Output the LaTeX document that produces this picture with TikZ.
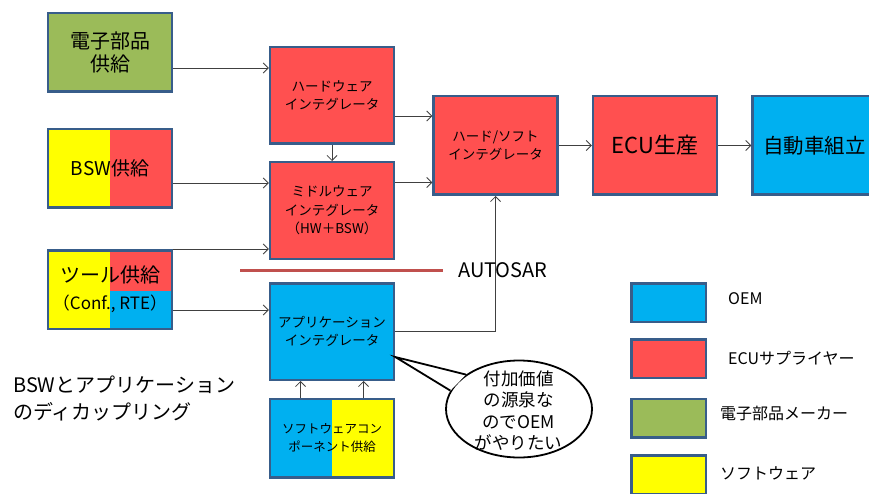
\documentclass[tikz,border=0pt]{standalone}
\usepackage{fontspec}
\setmainfont{Noto Sans CJK JP}
\usetikzlibrary{arrows.meta,shapes.geometric,calc}
\definecolor{cR}{HTML}{FF5050}
\definecolor{cB}{HTML}{00B0F0}
\definecolor{cG}{HTML}{9BBB59}
\definecolor{cY}{HTML}{FFFF00}
\definecolor{cBorder}{HTML}{385D8A}
\definecolor{cLine}{HTML}{404040}
\definecolor{cAuto}{HTML}{C0504D}
\begin{document}
\begin{tikzpicture}[x=1pt,y=-1pt,
  box/.style={draw=cBorder, line width=2.5pt, minimum width=124pt, minimum height=#1, inner sep=0pt, align=center},
  box/.default=78.5pt,
  legbox/.style={draw=cBorder, line width=2.5pt, minimum width=74.5pt, minimum height=38.5pt, inner sep=0pt},
  splitLR/.style 2 args={path picture={
      \fill[#1] (path picture bounding box.south west) rectangle (path picture bounding box.north);
      \fill[#2] (path picture bounding box.south) rectangle (path picture bounding box.north east);}},
  conn/.style={draw=cLine, line width=0.8pt, -{Straight Barb[length=5pt,width=10pt]}},
  fbig/.style={font=\fontsize{20pt}{23pt}\selectfont},
  fmid/.style={font=\fontsize{13.5pt}{18.5pt}\selectfont},
  fsmall/.style={font=\fontsize{12.5pt}{18pt}\selectfont},
  fleg/.style={font=\fontsize{16pt}{19pt}\selectfont, anchor=west, inner sep=0pt},
]
\useasboundingbox (0,0) rectangle (869,494);
\clip (0,0) rectangle (869,494);

% left column
\node[box, fill=cG, fbig] (den) at (110,52.5) {電子部品\\供給};
\node[box, splitLR={cY}{cR}, font=\fontsize{19pt}{23pt}\selectfont] (bsw) at (110,168.5) {BSW供給};
\node[box, font=\fontsize{20pt}{27pt}\selectfont, path picture={
    \fill[cY] (path picture bounding box.south west) rectangle (path picture bounding box.north);
    \fill[cR] (path picture bounding box.north east) rectangle ([yshift=-1.5pt]path picture bounding box.center);
    \fill[cB] (path picture bounding box.south east) rectangle ([yshift=-1.5pt]path picture bounding box.center);}]
  (tool) at (110,289.5) {ツール供給\\{\fontsize{17pt}{27pt}\selectfont（Conf., RTE）}};

% integrators
\node[box=96.5pt, fill=cR, fmid] (hw) at (332,95.5) {ハードウェア\\インテグレータ};
\node[box=96.5pt, fill=cR, fmid] (mw) at (332,210.5) {ミドルウェア\\インテグレータ\\（HW＋BSW）};
\node[box=96.5pt, fill=cB, fmid] (app) at (332,331.5) {アプリケーション\\インテグレータ};
\node[box, splitLR={cB}{cY}, fsmall] (swc) at (332,438) {ソフトウェアコン\\ポーネント供給};

\node[box=98.5pt, fill=cR, fmid] (hs) at (495.5,145.5) {ハード/ソフト\\インテグレータ};
\node[box=98.5pt, fill=cR, font=\fontsize{22pt}{26pt}\selectfont] (ecu) at (655,145.5) {ECU生産};
\node[box=98.5pt, fill=cB, font=\fontsize{20.5pt}{24pt}\selectfont] (car) at (814.5,145.5) {自動車組立};

% connectors
\coordinate (a1) at ($(den.east)+(0,15.5)$);
\coordinate (a2) at ($(bsw.east)+(0,14.5)$);
\coordinate (a3) at (tool.north east);
\coordinate (a4) at ($(tool.east)+(0,20.5)$);
\coordinate (a5) at ($(hw.east)+(0,20.5)$);
\coordinate (a6) at ($(mw.east)+(0,-28)$);
\coordinate (a7) at ($(swc.north)+(-31.5,0)$);
\coordinate (a8) at ($(swc.north)+(31.5,0)$);
\draw[conn] (a1) -- (a1 -| hw.west);
\draw[conn] (a2) -- (a2 -| mw.west);
\draw[conn] (a3) -- (a3 -| mw.west);
\draw[conn] (a4) -- (a4 -| app.west);
\draw[conn] (hw.south) -- (mw.north);
\draw[conn] (a5) -- (a5 -| hs.west);
\draw[conn] (a6) -- (a6 -| hs.west);
\draw[conn] (app.east) -| (hs.south);
\draw[conn] (hs.east) -- (ecu.west);
\draw[conn] (ecu.east) -- (car.west);
\draw[conn] (a7) -- (a7 |- app.south);
\draw[conn] (a8) -- (a8 |- app.south);

% AUTOSAR line
\draw[cAuto, line width=3pt] (240,270) -- (443,270);
\node[anchor=west, inner sep=0pt, font=\fontsize{20pt}{24pt}\selectfont] (autosar) at (458,270) {AUTOSAR};

% decoupling text
\node[anchor=west, inner sep=0pt, align=left, font=\fontsize{20pt}{27pt}\selectfont] (dec) at (13,398.5) {BSWとアプリケーション\\のディカップリング};

% callout
\node[draw=black, line width=1.8pt, fill=white, ellipse, minimum width=146pt, minimum height=97pt, inner sep=0pt] (call) at (519,409) {};
\coordinate (tip) at ([yshift=-25.5pt]app.east);
\fill[white] (tip) -- (call.147) -- (call.165) -- cycle;
\draw[black, line width=1.8pt, line join=miter] (call.147) -- (tip) -- (call.165);
\node[align=center, inner sep=0pt, font=\fontsize{17.5pt}{21.5pt}\selectfont] (callt) at (518.5,410.5) {付加価値\\の源泉な\\のでOEM\\がやりたい};

% legend
\node[legbox, fill=cB] (l1) at (668.5,302.5) {};
\node[legbox, fill=cR] (l2) at (668.5,358.5) {};
\node[legbox, fill=cG] (l3) at (668.5,418) {};
\node[legbox, fill=cY] (l4) at (668.5,474.5) {};
\node[fleg] (t1) at (728,299) {OEM};
\node[fleg] (t2) at (728,358) {ECUサプライヤー};
\node[fleg] (t3) at (720,413) {電子部品メーカー};
\node[fleg] (t4) at (720,473) {ソフトウェア};
\end{tikzpicture}
\end{document}
